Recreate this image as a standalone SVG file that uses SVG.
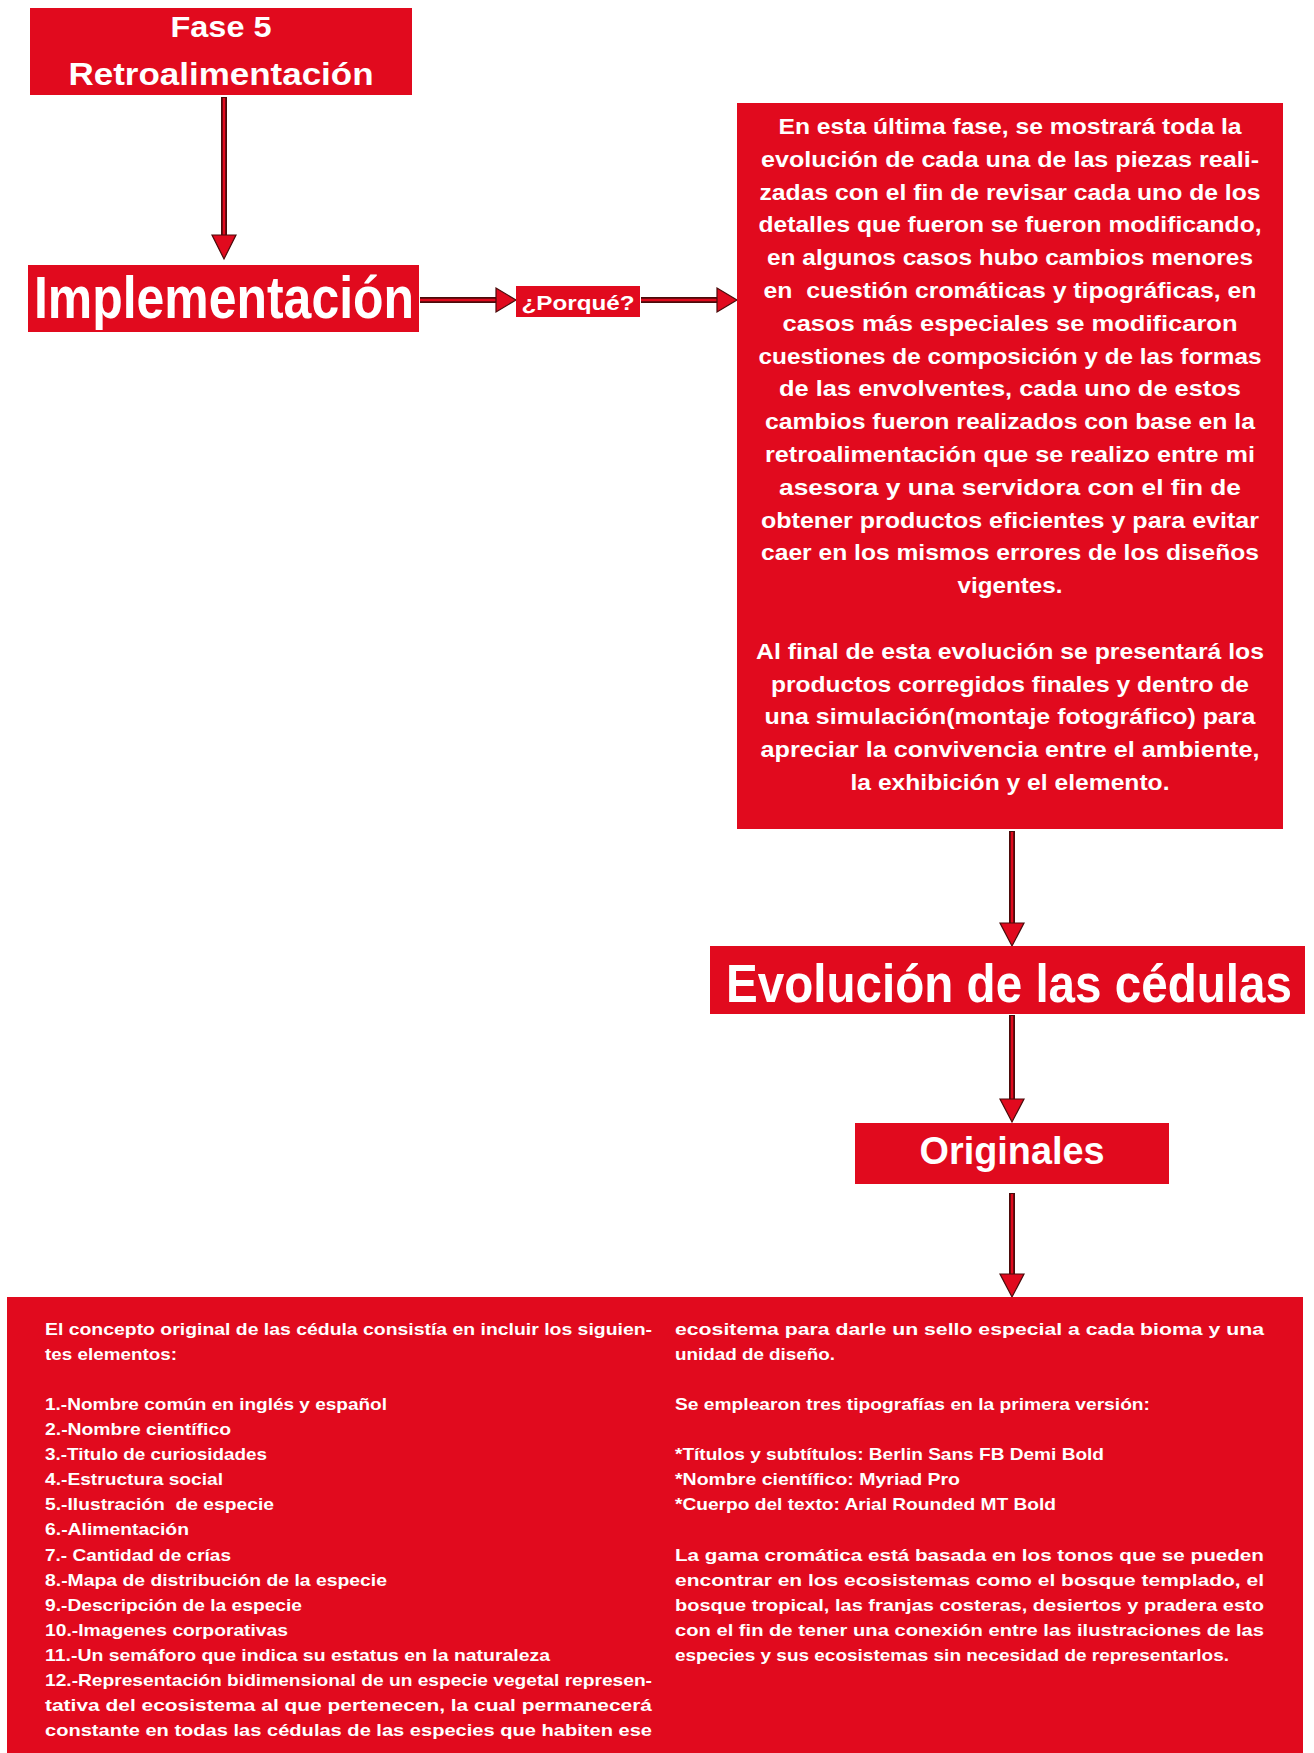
<svg xmlns="http://www.w3.org/2000/svg" width="1314" height="1753" viewBox="0 0 1314 1753">
<style>
.box{fill:#E10A1E}
.title{font-family:"Liberation Sans Narrow","Liberation Sans",Arial,sans-serif;font-weight:bold;fill:#fff;text-anchor:middle}
.para{font-family:"Liberation Sans",Arial,sans-serif;font-weight:bold;fill:#fff;font-size:21.5px;text-anchor:middle}
.body{font-family:"Liberation Sans",Arial,sans-serif;font-weight:bold;fill:#fff;font-size:17px}
.shaftd{stroke:#4a0b0b;stroke-width:6;fill:none}
.shaftr{stroke:#E10A1E;stroke-width:2.5;fill:none}
.head{fill:#E10A1E;stroke:#4a0b0b;stroke-width:1.2;stroke-linejoin:miter}
</style>
<rect width="1314" height="1753" fill="#fff"/>

<g id="connectors">
  <g id="c1">
    <line class="shaftd" x1="224" y1="97" x2="224" y2="238"/>
    <line class="shaftr" x1="224" y1="98" x2="224" y2="238"/>
    <polygon class="head" points="212,235 236,235 224,259"/>
  </g>
  <g id="c2">
    <line class="shaftd" x1="420" y1="300" x2="499" y2="300"/>
    <line class="shaftr" x1="420" y1="300" x2="499" y2="300"/>
    <polygon class="head" points="496,288 496,312 516,300"/>
  </g>
  <g id="c3">
    <line class="shaftd" x1="641" y1="300" x2="720" y2="300"/>
    <line class="shaftr" x1="641" y1="300" x2="720" y2="300"/>
    <polygon class="head" points="717,288 717,312 737,300"/>
  </g>
  <g id="c4">
    <line class="shaftd" x1="1012" y1="831" x2="1012" y2="926"/>
    <line class="shaftr" x1="1012" y1="832" x2="1012" y2="926"/>
    <polygon class="head" points="1000,923 1024,923 1012,946"/>
  </g>
  <g id="c5">
    <line class="shaftd" x1="1012" y1="1015" x2="1012" y2="1102"/>
    <line class="shaftr" x1="1012" y1="1016" x2="1012" y2="1102"/>
    <polygon class="head" points="1000,1099 1024,1099 1012,1122"/>
  </g>
  <g id="c6">
    <line class="shaftd" x1="1012" y1="1193" x2="1012" y2="1277"/>
    <line class="shaftr" x1="1012" y1="1194" x2="1012" y2="1277"/>
    <polygon class="head" points="1000,1274 1024,1274 1012,1297"/>
  </g>
</g>

<g id="fase5">
  <rect class="box" x="30" y="8" width="382" height="87"/>
  <text class="title" x="221" y="37" font-size="30" textLength="101" lengthAdjust="spacingAndGlyphs">Fase 5</text>
  <text class="title" x="221" y="85" font-size="31" textLength="305" lengthAdjust="spacingAndGlyphs">Retroalimentación</text>
</g>

<g id="implementacion">
  <rect class="box" x="28" y="265" width="391" height="67"/>
  <text class="title" x="224" y="318" font-size="60" textLength="380" lengthAdjust="spacingAndGlyphs">Implementación</text>
</g>

<g id="porque">
  <rect class="box" x="516" y="286" width="124" height="31"/>
  <text class="title" x="578" y="310" font-size="21" textLength="113" lengthAdjust="spacingAndGlyphs">¿Porqué?</text>
</g>

<g id="descripcion">
  <rect class="box" x="737" y="103" width="546" height="726"/>
  <text class="para" x="1010" y="134" textLength="463" lengthAdjust="spacingAndGlyphs">En esta última fase, se mostrará toda la</text>
  <text class="para" x="1010" y="166.8" textLength="498" lengthAdjust="spacingAndGlyphs">evolución de cada una de las piezas reali-</text>
  <text class="para" x="1010" y="199.6" textLength="501" lengthAdjust="spacingAndGlyphs">zadas con el fin de revisar cada uno de los</text>
  <text class="para" x="1010" y="232.4" textLength="503" lengthAdjust="spacingAndGlyphs">detalles que fueron se fueron modificando,</text>
  <text class="para" x="1010" y="265.2" textLength="486" lengthAdjust="spacingAndGlyphs">en algunos casos hubo cambios menores</text>
  <text class="para" x="1010" y="298" textLength="493" lengthAdjust="spacingAndGlyphs" xml:space="preserve">en  cuestión cromáticas y tipográficas, en</text>
  <text class="para" x="1010" y="330.8" textLength="455" lengthAdjust="spacingAndGlyphs">casos más especiales se modificaron</text>
  <text class="para" x="1010" y="363.6" textLength="503" lengthAdjust="spacingAndGlyphs">cuestiones de composición y de las formas</text>
  <text class="para" x="1010" y="396.4" textLength="462" lengthAdjust="spacingAndGlyphs">de las envolventes, cada uno de estos</text>
  <text class="para" x="1010" y="429.2" textLength="490" lengthAdjust="spacingAndGlyphs">cambios fueron realizados con base en la</text>
  <text class="para" x="1010" y="462" textLength="490" lengthAdjust="spacingAndGlyphs">retroalimentación que se realizo entre mi</text>
  <text class="para" x="1010" y="494.8" textLength="462" lengthAdjust="spacingAndGlyphs">asesora y una servidora con el fin de</text>
  <text class="para" x="1010" y="527.6" textLength="498" lengthAdjust="spacingAndGlyphs">obtener productos eficientes y para evitar</text>
  <text class="para" x="1010" y="560.4" textLength="498" lengthAdjust="spacingAndGlyphs">caer en los mismos errores de los diseños</text>
  <text class="para" x="1010" y="593.2" textLength="105" lengthAdjust="spacingAndGlyphs">vigentes.</text>
  <text class="para" x="1010" y="658.8" textLength="508" lengthAdjust="spacingAndGlyphs">Al final de esta evolución se presentará los</text>
  <text class="para" x="1010" y="691.6" textLength="478" lengthAdjust="spacingAndGlyphs">productos corregidos finales y dentro de</text>
  <text class="para" x="1010" y="724.4" textLength="491" lengthAdjust="spacingAndGlyphs">una simulación(montaje fotográfico) para</text>
  <text class="para" x="1010" y="757.2" textLength="499" lengthAdjust="spacingAndGlyphs">apreciar la convivencia entre el ambiente,</text>
  <text class="para" x="1010" y="790" textLength="319" lengthAdjust="spacingAndGlyphs">la exhibición y el elemento.</text>
</g>

<g id="evolucion">
  <rect class="box" x="710" y="946" width="595" height="68"/>
  <text class="title" x="1009" y="1002" font-size="54" textLength="566" lengthAdjust="spacingAndGlyphs">Evolución de las cédulas</text>
</g>

<g id="originales">
  <rect class="box" x="855" y="1123" width="314" height="61"/>
  <text class="title" x="1012" y="1164" font-size="38" textLength="185" lengthAdjust="spacingAndGlyphs">Originales</text>
</g>

<g id="concepto">
  <rect class="box" x="7" y="1297" width="1296" height="456"/>
  <text class="body" x="45" y="1335" textLength="607" lengthAdjust="spacingAndGlyphs">El concepto original de las cédula consistía en incluir los siguien-</text>
  <text class="body" x="45" y="1360" textLength="132" lengthAdjust="spacingAndGlyphs">tes elementos:</text>
  <text class="body" x="45" y="1410" textLength="342" lengthAdjust="spacingAndGlyphs">1.-Nombre común en inglés y español</text>
  <text class="body" x="45" y="1435" textLength="186" lengthAdjust="spacingAndGlyphs">2.-Nombre científico</text>
  <text class="body" x="45" y="1460" textLength="222" lengthAdjust="spacingAndGlyphs">3.-Titulo de curiosidades</text>
  <text class="body" x="45" y="1485" textLength="178" lengthAdjust="spacingAndGlyphs">4.-Estructura social</text>
  <text class="body" x="45" y="1510" textLength="229" lengthAdjust="spacingAndGlyphs" xml:space="preserve">5.-Ilustración  de especie</text>
  <text class="body" x="45" y="1535" textLength="144" lengthAdjust="spacingAndGlyphs">6.-Alimentación</text>
  <text class="body" x="45" y="1561" textLength="186" lengthAdjust="spacingAndGlyphs">7.- Cantidad de crías</text>
  <text class="body" x="45" y="1586" textLength="342" lengthAdjust="spacingAndGlyphs">8.-Mapa de distribución de la especie</text>
  <text class="body" x="45" y="1611" textLength="257" lengthAdjust="spacingAndGlyphs">9.-Descripción de la especie</text>
  <text class="body" x="45" y="1636" textLength="243" lengthAdjust="spacingAndGlyphs">10.-Imagenes corporativas</text>
  <text class="body" x="45" y="1661" textLength="505" lengthAdjust="spacingAndGlyphs">11.-Un semáforo que indica su estatus en la naturaleza</text>
  <text class="body" x="45" y="1686" textLength="607" lengthAdjust="spacingAndGlyphs">12.-Representación bidimensional de un especie vegetal represen-</text>
  <text class="body" x="45" y="1711" textLength="607" lengthAdjust="spacingAndGlyphs">tativa del ecosistema al que pertenecen, la cual permanecerá</text>
  <text class="body" x="45" y="1736" textLength="607" lengthAdjust="spacingAndGlyphs">constante en todas las cédulas de las especies que habiten ese</text>

  <text class="body" x="675" y="1335" textLength="589" lengthAdjust="spacingAndGlyphs">ecositema para darle un sello especial a cada bioma y una</text>
  <text class="body" x="675" y="1360" textLength="160" lengthAdjust="spacingAndGlyphs">unidad de diseño.</text>
  <text class="body" x="675" y="1410" textLength="475" lengthAdjust="spacingAndGlyphs">Se emplearon tres tipografías en la primera versión:</text>
  <text class="body" x="675" y="1460" textLength="429" lengthAdjust="spacingAndGlyphs">*Títulos y subtítulos: Berlin Sans FB Demi Bold</text>
  <text class="body" x="675" y="1485" textLength="285" lengthAdjust="spacingAndGlyphs">*Nombre científico: Myriad Pro</text>
  <text class="body" x="675" y="1510" textLength="381" lengthAdjust="spacingAndGlyphs">*Cuerpo del texto: Arial Rounded MT Bold</text>
  <text class="body" x="675" y="1561" textLength="589" lengthAdjust="spacingAndGlyphs">La gama cromática está basada en los tonos que se pueden</text>
  <text class="body" x="675" y="1586" textLength="589" lengthAdjust="spacingAndGlyphs">encontrar en los ecosistemas como el bosque templado, el</text>
  <text class="body" x="675" y="1611" textLength="589" lengthAdjust="spacingAndGlyphs">bosque tropical, las franjas costeras, desiertos y pradera esto</text>
  <text class="body" x="675" y="1636" textLength="589" lengthAdjust="spacingAndGlyphs">con el fin de tener una conexión entre las ilustraciones de las</text>
  <text class="body" x="675" y="1661" textLength="554" lengthAdjust="spacingAndGlyphs">especies y sus ecosistemas sin necesidad de representarlos.</text>
</g>
</svg>
